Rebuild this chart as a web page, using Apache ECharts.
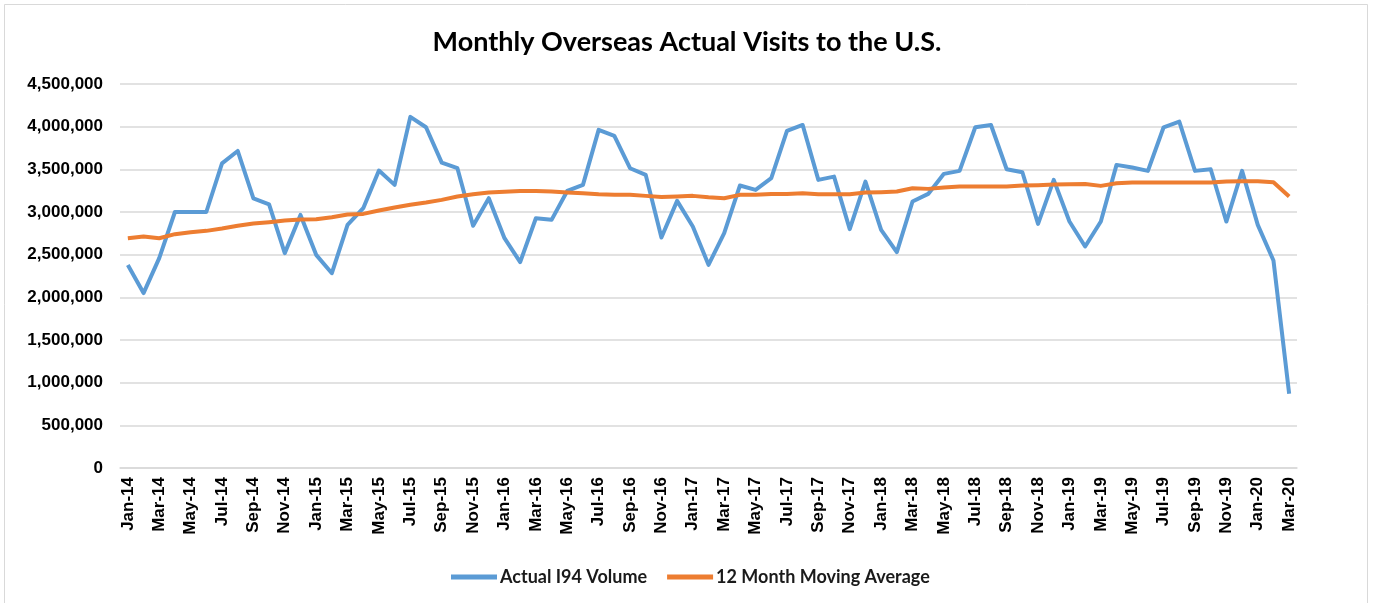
<!DOCTYPE html>
<html><head><meta charset="utf-8">
<script src="https://cdn.jsdelivr.net/npm/echarts@6/dist/echarts.min.js"></script>
<style>html,body{margin:0;padding:0;background:#fff}#c{width:1374px;height:603px}</style>
</head><body><div id="c"></div>
<script>
const months = ['Jan','Feb','Mar','Apr','May','Jun','Jul','Aug','Sep','Oct','Nov','Dec'];
const categories = [];
for (let y = 14; y <= 20; y++) { for (let m = 0; m < 12; m++) { if (y === 20 && m > 2) break; categories.push(months[m] + '-' + y); } }

const actualVolume = [
 2380000,2050000,2460000,3000000,3000000,3000000,3570000,3715000,3160000,3090000,2518000,2966000,
 2498000,2283000,2849000,3044000,3486000,3318000,4115000,3993000,3579000,3513000,2838000,3162000,
 2693000,2412000,2927000,2908000,3247000,3318000,3962000,3891000,3513000,3435000,2701000,3130000,
 2830000,2381000,2752000,3310000,3259000,3396000,3950000,4020000,3376000,3415000,2799000,3357000,
 2791000,2529000,3123000,3212000,3447000,3482000,3993000,4020000,3501000,3466000,2861000,3376000,
 2888000,2596000,2888000,3552000,3521000,3482000,3993000,4059000,3482000,3501000,2888000,3482000,
 2849000,2432000,870000
];
const movingAverage = [
 2693000,2713000,2693000,2740000,2763000,2779000,2806000,2838000,2865000,2881000,2900000,2912000,
 2916000,2939000,2970000,2978000,3017000,3052000,3086000,3111000,3142000,3181000,3208000,3228000,
 3236000,3247000,3247000,3240000,3228000,3220000,3208000,3201000,3201000,3189000,3177000,3181000,
 3189000,3173000,3162000,3201000,3201000,3212000,3212000,3220000,3208000,3208000,3208000,3228000,
 3232000,3240000,3279000,3271000,3287000,3298000,3298000,3298000,3298000,3310000,3314000,3322000,
 3326000,3329000,3306000,3337000,3345000,3345000,3345000,3345000,3345000,3345000,3357000,3361000,
 3361000,3349000,3181000
];
const yTicks = { min: 0, max: 4500000, interval: 500000 };

const chart = echarts.init(document.getElementById('c'), null, { renderer: 'canvas' });
chart.setOption({
  animation: false,
  backgroundColor: '#fff',
  graphic: [{ type: 'rect', shape: { x: 4.5, y: 4.5, width: 1363, height: 600 }, style: { fill: 'none', stroke: '#d9d9d9', lineWidth: 1 }, silent: true }],
  title: {
    text: 'Monthly Overseas Actual Visits to the U.S.',
    left: 'center', top: 24,
    textStyle: { fontFamily: 'Lato', fontWeight: 'bold', fontSize: 27, color: '#000' }
  },
  legend: {
    top: 563, left: 446,
    itemWidth: 46, itemHeight: 5, itemGap: 20, icon: 'rect',
    textStyle: { fontFamily: 'Lato', fontWeight: 'bold', fontSize: 18, color: '#1a1a1a', padding: [0, 0, 0, -2] },
    data: ['Actual I94 Volume', '12 Month Moving Average']
  },
  grid: { left: 120, right: 77, top: 84, bottom: 135, containLabel: false },
  xAxis: {
    type: 'category', data: categories, boundaryGap: true,
    axisLine: { lineStyle: { color: '#d9d9d9', width: 1.5 } },
    axisTick: { show: false },
    axisLabel: { interval: 1, rotate: 90, fontFamily: 'Liberation Sans', fontWeight: 'bold', fontSize: 17, color: '#000', margin: 9 }
  },
  yAxis: {
    type: 'value', min: yTicks.min, max: yTicks.max, interval: yTicks.interval,
    axisLine: { show: false }, axisTick: { show: false },
    splitLine: { lineStyle: { color: '#d9d9d9', width: 1.5 } },
    axisLabel: {
      fontFamily: 'Liberation Sans', fontWeight: 'bold', fontSize: 17, color: '#000', margin: 17,
      formatter: v => v.toLocaleString('en-US')
    }
  },
  series: [
    { name: 'Actual I94 Volume', type: 'line', data: actualVolume, symbol: 'none',
      lineStyle: { color: '#5B9BD5', width: 4, join: 'round' }, itemStyle: { color: '#5B9BD5' } },
    { name: '12 Month Moving Average', type: 'line', data: movingAverage, symbol: 'none',
      lineStyle: { color: '#ED7D31', width: 4, join: 'round' }, itemStyle: { color: '#ED7D31' } }
  ]
});
</script></body></html>
